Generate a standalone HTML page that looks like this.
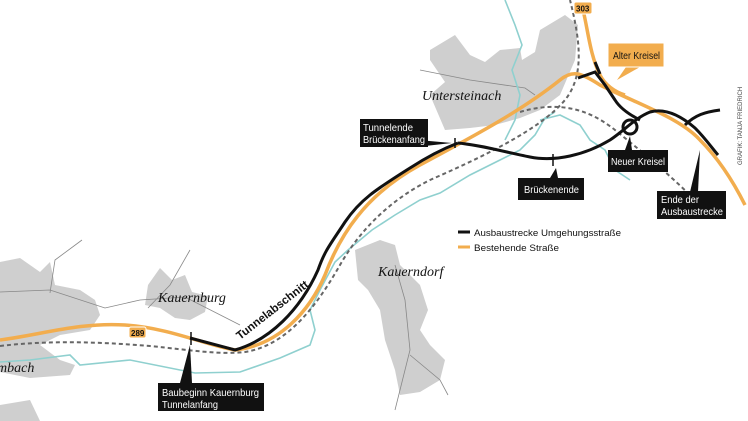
<!DOCTYPE html>
<html><head><meta charset="utf-8"><style>
body{margin:0;background:#fff}
svg{display:block}
.lb{font-family:"Liberation Sans",sans-serif;font-size:10.5px;fill:#fff}
.pl{font-family:"Liberation Serif",serif;font-style:italic;font-size:14px;fill:#111}
</style></head><body>
<svg width="748" height="421" viewBox="0 0 748 421">
<g fill="#cfcfcf">
<polygon points="430,50 455,35 470,55 485,62 500,50 520,48 522,60 535,52 540,30 565,15 578,25 575,60 560,95 540,110 520,118 495,125 470,128 445,130 430,95 445,82 430,60"/>
<polygon points="0,262 20,258 40,272 50,262 55,285 80,290 95,300 100,315 90,330 60,335 40,345 60,360 75,365 70,375 30,378 0,372"/>
<polygon points="148,285 160,268 172,280 185,275 192,292 208,296 205,312 190,320 175,318 160,308 145,305"/>
<polygon points="355,250 380,240 395,245 400,265 420,285 428,310 420,330 430,345 445,360 440,380 420,392 400,395 395,370 385,340 380,310 368,290 358,280"/>
<polygon points="0,405 30,400 40,421 0,421"/>
</g>
<g fill="none" stroke="#888" stroke-width="0.8">
<path d="M0,292 L50,290 L105,308 L140,300 L185,297 L240,325"/>
<path d="M50,293 L55,260 L82,240"/>
<path d="M148,308 L170,285 L190,250"/>
<path d="M395,265 L405,300 L410,350 L395,410"/>
<path d="M410,355 L440,380 L448,395"/>
<path d="M420,70 L470,80 L525,88 L535,95"/>
</g>
<g fill="none" stroke="#8fd0cf" stroke-width="1.6">
<path d="M0,362 L30,360 L70,355 L80,365 L130,360 L195,373 L240,372 L280,358 L310,345 L315,330 L310,310 L320,290 L335,262 L348,250 L372,230 L395,215 L420,200 L440,193 L470,175 L500,160 L520,150 L535,135 L545,118 L555,112"/>
<path d="M505,0 L515,25 L522,45 L512,70 L520,95 L515,120 L505,140"/>
<path d="M540,120 L560,115 L580,125 L590,140 L605,150 L615,170 L630,180"/>
</g>
<g fill="none" stroke="#666" stroke-width="2" stroke-dasharray="4,3">
<path d="M0,346 C50,340 100,342 150,346 C190,350 220,355 245,352 C290,345 320,300 340,265 C360,230 390,200 430,180 C480,158 540,130 565,100 C585,75 580,40 570,0"/>
<path d="M520,112 C560,100 590,110 615,130 C640,150 670,175 695,200"/>
</g>
<g fill="none" stroke="#f2ad4e" stroke-width="3.5">
<path d="M0,340 C40,335 80,322 125,325 C170,328 205,345 235,350 C280,345 310,310 325,275 C340,235 365,195 420,165 C470,138 520,112 560,80 C572,70 580,72 600,85 C640,105 680,118 700,140 C720,160 735,185 745,205"/>
<path d="M583,10 C588,30 590,55 600,75 C605,85 615,92 625,95"/>
</g>
<g fill="none" stroke="#111" stroke-width="3">
<path d="M190,338 L235,350 C270,340 300,310 318,270 C325,250 330,245 345,222 C360,200 375,190 410,168 C430,155 445,148 458,143"/>
<path d="M458,143 C480,145 505,152 530,157 C555,162 585,155 610,140 C625,130 635,118 650,112 C665,108 680,115 695,128 C705,138 712,148 718,155"/>
<path d="M578,78 L595,72 L605,85 L615,100 C620,108 630,115 640,120"/>
<path d="M595,62 L600,74"/>
<path d="M685,125 C695,115 705,112 720,110"/>
<circle cx="630" cy="127" r="7"/>
</g>
<g stroke="#111" stroke-width="1.5">
<line x1="455" y1="138" x2="455" y2="148"/>
<line x1="553" y1="154" x2="553" y2="166"/>
<line x1="191" y1="332" x2="191" y2="345"/>
</g>
<g fill="#111">
<polygon points="418,140 452,143 416,147"/>
<polygon points="550,178 556,168 558,178"/>
<polygon points="625,150 630,136 632,150"/>
<polygon points="690,192 700,150 698,192"/>
<polygon points="180,383 190,345 192,383"/>
</g>
<polygon points="626,67 640,67 617,80" fill="#f2ad4e"/>
<rect x="360" y="119" width="68" height="28" fill="#111"/>
<text class="lb" x="363" y="131" textLength="50" lengthAdjust="spacingAndGlyphs">Tunnelende</text><text class="lb" x="363" y="143" textLength="62" lengthAdjust="spacingAndGlyphs">Brückenanfang</text>
<rect x="518" y="178" width="66" height="22" fill="#111"/>
<text class="lb" x="524" y="193" textLength="55" lengthAdjust="spacingAndGlyphs">Brückenende</text>
<rect x="608" y="150" width="60" height="22" fill="#111"/>
<text class="lb" x="611" y="165" textLength="54" lengthAdjust="spacingAndGlyphs">Neuer Kreisel</text>
<rect x="657" y="191" width="69" height="28" fill="#111"/>
<text class="lb" x="661" y="203" textLength="38" lengthAdjust="spacingAndGlyphs">Ende der</text><text class="lb" x="661" y="215" textLength="62" lengthAdjust="spacingAndGlyphs">Ausbaustrecke</text>
<rect x="158" y="383" width="106" height="28" fill="#111"/>
<text class="lb" x="162" y="396" textLength="97" lengthAdjust="spacingAndGlyphs">Baubeginn Kauernburg</text><text class="lb" x="162" y="408" textLength="56" lengthAdjust="spacingAndGlyphs">Tunnelanfang</text>
<rect x="608" y="43" width="56" height="24" fill="#f2ad4e" stroke="#fff" stroke-width="1"/>
<text x="613" y="59" font-family="Liberation Sans,sans-serif" font-size="10.5" fill="#111" textLength="47" lengthAdjust="spacingAndGlyphs">Alter Kreisel</text>
<rect x="574" y="2" width="18" height="12" rx="2" fill="#f2ad4e" stroke="#fff"/>
<text x="576" y="11.5" font-family="Liberation Sans,sans-serif" font-size="8" font-weight="bold" fill="#111">303</text>
<rect x="129" y="327" width="17" height="11" rx="2" fill="#f2ad4e" stroke="#fff"/>
<text x="131" y="336" font-family="Liberation Sans,sans-serif" font-size="8" font-weight="bold" fill="#111">289</text>
<text class="pl" x="422" y="100">Untersteinach</text>
<text class="pl" x="378" y="276">Kauerndorf</text>
<text class="pl" x="158" y="302">Kauernburg</text>
<text class="pl" x="-3" y="372">mbach</text>
<text x="0" y="0" transform="translate(240,340) rotate(-38)" font-family="Liberation Sans,sans-serif" font-size="11.5" font-weight="bold" fill="#111">Tunnelabschnitt</text>
<line x1="458" y1="232" x2="470" y2="232" stroke="#111" stroke-width="3"/>
<text x="474" y="236" font-family="Liberation Sans,sans-serif" font-size="9.5" fill="#111" textLength="147" lengthAdjust="spacingAndGlyphs">Ausbaustrecke Umgehungsstraße</text>
<line x1="458" y1="247" x2="470" y2="247" stroke="#f2ad4e" stroke-width="3"/>
<text x="474" y="251" font-family="Liberation Sans,sans-serif" font-size="9.5" fill="#111" textLength="85" lengthAdjust="spacingAndGlyphs">Bestehende Straße</text>
<text x="0" y="0" transform="translate(742,165) rotate(-90)" font-family="Liberation Sans,sans-serif" font-size="6" fill="#444">GRAFIK: TANJA FRIEDRICH</text>
</svg>
</body></html>
